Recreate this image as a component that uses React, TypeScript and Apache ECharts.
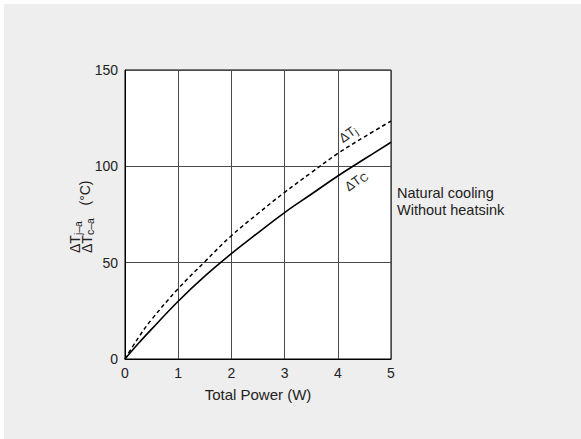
import React, { useEffect, useRef } from "react";
import * as echarts from "echarts";

const powerW = [0, 0.25, 0.5, 1, 1.5, 2, 2.5, 3, 3.5, 4, 4.5, 5];
const deltaTc = [0, 8, 15.5, 30, 43, 54.7, 65.5, 76, 85.5, 95, 103.8, 112.5];
const deltaTj = [0, 11, 20.5, 36.5, 50.5, 64, 75.5, 86.5, 96.7, 106.7, 115.3, 123.5];
const noteLines = ["Natural cooling", "Without heatsink"];
const xName = "Total Power (W)";

const FONT = "'Liberation Sans', Arial, sans-serif";

const subRich = {
  a: { fontSize: 14, fontFamily: FONT, lineHeight: 16, fill: "#222" },
  s: { fontSize: 10.5, fontFamily: FONT, lineHeight: 8, verticalAlign: "bottom", fill: "#222" },
};

export default function App() {
  const ref = useRef<HTMLDivElement>(null);
  useEffect(() => {
    if (!ref.current) return;
    const chart = echarts.init(ref.current, null, { renderer: "svg" });
    const rot = (36 * Math.PI) / 180;
    chart.setOption({
      animation: false,
      backgroundColor: "#ffffff",
      textStyle: { fontFamily: FONT },
      grid: {
        left: 125,
        top: 70,
        width: 266,
        height: 289,
        show: true,
        backgroundColor: "#ffffff",
        borderColor: "#000",
        borderWidth: 1,
        z: 1,
      },
      xAxis: {
        type: "value",
        min: 0,
        max: 5,
        interval: 1,
        z: 3,
        name: xName,
        nameLocation: "middle",
        nameGap: 28,
        nameTextStyle: { fontSize: 15, color: "#222", fontFamily: FONT },
        axisLine: { show: true, lineStyle: { color: "#000", width: 1 } },
        axisTick: { show: false },
        axisLabel: { fontSize: 14, color: "#222", margin: 7, fontFamily: FONT },
        splitLine: { show: true, lineStyle: { color: "#4a4a4a", width: 1 } },
      },
      yAxis: {
        type: "value",
        min: 0,
        max: 150,
        interval: 50,
        z: 3,
        axisLine: { show: true, lineStyle: { color: "#000", width: 1 } },
        axisTick: { show: false },
        axisLabel: { fontSize: 14, color: "#222", margin: 7, fontFamily: FONT },
        splitLine: { show: true, lineStyle: { color: "#4a4a4a", width: 1 } },
      },
      series: [
        {
          type: "line",
          name: "ΔTj",
          data: powerW.map((p, i) => [p, deltaTj[i]]),
          smooth: 0.4,
          showSymbol: false,
          lineStyle: { color: "#000", width: 1.5, type: [4, 3] },
          z: 5,
        },
        {
          type: "line",
          name: "ΔTc",
          data: powerW.map((p, i) => [p, deltaTc[i]]),
          smooth: 0.4,
          showSymbol: false,
          lineStyle: { color: "#000", width: 1.6 },
          z: 5,
        },
      ],
      graphic: [
        {
          type: "rect",
          z: -100,
          silent: true,
          shape: { x: 4, y: 4, width: 577, height: 435 },
          style: { fill: "#eeeeee" },
        },
        {
          type: "text",
          x: 75,
          y: 253,
          rotation: Math.PI / 2,
          z: 10,
          style: {
            text: "{a|ΔT}{s|j–a}",
            textAlign: "left",
            textVerticalAlign: "middle",
            rich: subRich,
          },
        },
        {
          type: "text",
          x: 87,
          y: 253,
          rotation: Math.PI / 2,
          z: 10,
          style: {
            text: "{a|ΔT}{s|c–a}",
            textAlign: "left",
            textVerticalAlign: "middle",
            rich: subRich,
          },
        },
        {
          type: "text",
          x: 85,
          y: 193,
          rotation: Math.PI / 2,
          z: 10,
          style: {
            text: "(°C)",
            font: `14px ${FONT}`,
            fill: "#222",
            textAlign: "center",
            textVerticalAlign: "middle",
          },
        },
        {
          type: "text",
          x: 348,
          y: 134,
          rotation: rot,
          z: 10,
          style: {
            text: "{a|ΔT}{s|j}",
            textAlign: "center",
            textVerticalAlign: "middle",
            rich: {
              a: { fontSize: 13, fontFamily: FONT, lineHeight: 15, fill: "#222" },
              s: { fontSize: 10, fontFamily: FONT, lineHeight: 9, verticalAlign: "bottom", fill: "#222" },
            },
          },
        },
        {
          type: "text",
          x: 356,
          y: 181,
          rotation: rot,
          z: 10,
          style: {
            text: "{a|ΔT}{s|C}",
            textAlign: "center",
            textVerticalAlign: "middle",
            rich: {
              a: { fontSize: 13, fontFamily: FONT, lineHeight: 15, fill: "#222" },
              s: { fontSize: 11, fontFamily: FONT, lineHeight: 11, verticalAlign: "bottom", fill: "#222" },
            },
          },
        },
        {
          type: "text",
          x: 397,
          y: 201,
          z: 10,
          style: {
            text: noteLines.join("\n"),
            font: `14.5px ${FONT}`,
            lineHeight: 17,
            fill: "#222",
            textAlign: "left",
            textVerticalAlign: "middle",
          },
        },
      ],
    });
    return () => chart.dispose();
  }, []);
  return (
    <div
      ref={ref}
      style={{ position: "fixed", left: 0, top: 0, width: 581, height: 439 }}
    />
  );
}
